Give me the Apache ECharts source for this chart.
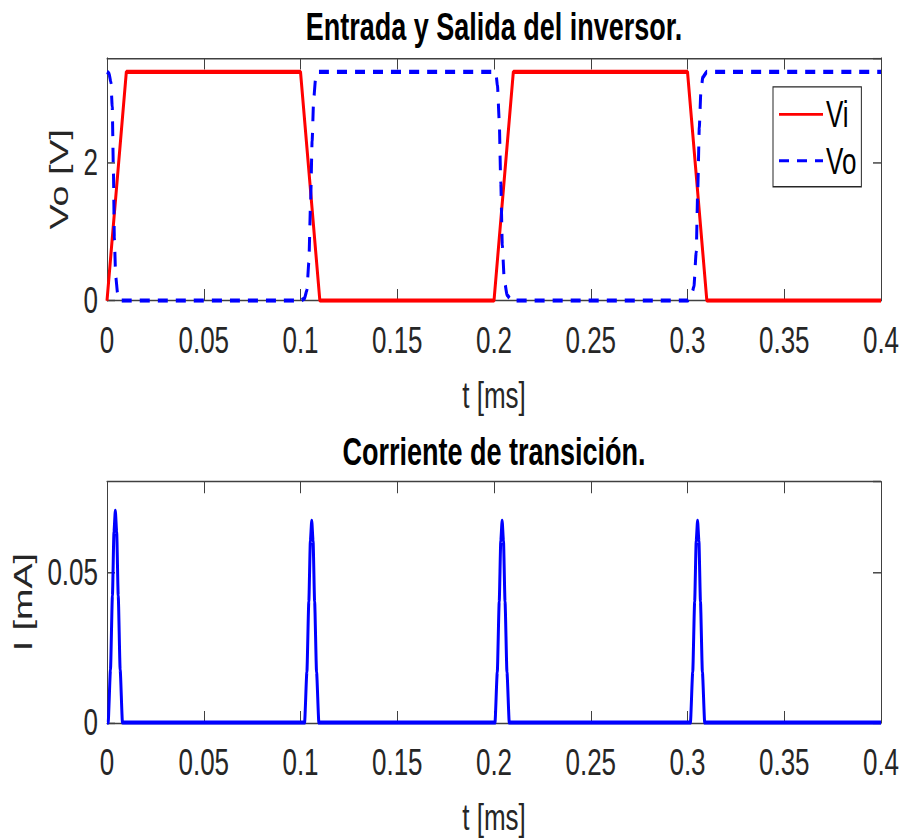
<!DOCTYPE html>
<html>
<head>
<meta charset="utf-8">
<script src="https://cdn.jsdelivr.net/npm/echarts@6/dist/echarts.min.js"></script>
<style>
  html, body { margin: 0; padding: 0; background: #fff; overflow: hidden; }
  #wrap { width: 903px; height: 840px; overflow: hidden; }
  /* figure is drawn at 580px high and stretched to 840 like the original picture */
  #chart { width: 903px; height: 580px; transform: scaleY(1.448276); transform-origin: 0 0; }
</style>
</head>
<body>
<div id="wrap"><div id="chart"></div></div>
<script>
// entrada (Vi)
var tVi = [0, 0.01, 0.1, 0.11, 0.2, 0.21, 0.3, 0.31, 0.4];
var vi  = [0, 3.3, 3.3, 0, 0, 3.3, 3.3, 0, 0];

// salida (Vo)
var tVo = [0, 0.001, 0.002, 0.0027, 0.0033, 0.0038, 0.0045, 0.0055, 0.007,
  0.1, 0.102, 0.1033, 0.1043, 0.1052, 0.106, 0.1068, 0.1078, 0.109,
  0.2, 0.201, 0.2018, 0.2027, 0.2035, 0.2043, 0.2053, 0.2068, 0.209,
  0.3, 0.3018, 0.3033, 0.3045, 0.3053, 0.3061, 0.3069, 0.3079, 0.31, 0.4];
var vo  = [3.3, 3.28, 3.15, 2.8, 1.9, 0.9, 0.35, 0.1, 0,
  0, 0.03, 0.15, 0.55, 1.4, 2.3, 2.9, 3.2, 3.3,
  3.3, 3.27, 3.1, 2.6, 1.7, 0.8, 0.3, 0.08, 0,
  0, 0.04, 0.2, 0.7, 1.6, 2.5, 3.0, 3.22, 3.3, 3.3];

// corriente de transicion (mA)
var tI = [0, 0.0006, 0.0018, 0.0028, 0.0036, 0.0043, 0.005, 0.0058, 0.0068, 0.008,
  0.1021, 0.1033, 0.1043, 0.1051, 0.1058, 0.1065, 0.1073, 0.1083, 0.1095,
  0.2005, 0.2017, 0.2027, 0.2035, 0.2042, 0.2049, 0.2057, 0.2067, 0.2079,
  0.3015, 0.3027, 0.3037, 0.3045, 0.3052, 0.3059, 0.3067, 0.3077, 0.3089, 0.4];
var iT = [0, 0, 0.0176, 0.0422, 0.0633, 0.0703, 0.0633, 0.0422, 0.0176, 0,
  0, 0.0168, 0.0402, 0.0603, 0.067, 0.0603, 0.0402, 0.0168, 0,
  0, 0.0168, 0.0402, 0.0603, 0.067, 0.0603, 0.0402, 0.0168, 0,
  0, 0.0168, 0.0402, 0.0603, 0.067, 0.0603, 0.0402, 0.0168, 0, 0];

function pairs (t, v) {
  return t.map(function (x, i) { return [x, v[i]]; });
}

var font = 'Liberation Sans, Arial, Helvetica, sans-serif';
var axisColor = '#404040';
var txt = '#262626';

function xAx (grid, pos, main) {
  return {
    type: 'value', gridIndex: grid, position: pos,
    min: 0, max: 0.4, interval: 0.05,
    axisLine: { show: true, onZero: false, lineStyle: { color: axisColor, width: 1 } },
    axisTick: { show: true, inside: true, length: 8, lineStyle: { color: axisColor } },
    axisLabel: { show: main, margin: 14, fontSize: 26, color: txt, fontFamily: font },
    splitLine: { show: false },
    name: main ? 't [ms]' : '', nameLocation: 'middle', nameGap: 52,
    nameTextStyle: { fontSize: 26, color: txt, fontFamily: font }
  };
}

function yAx (grid, pos, main, max, interval, name, gap) {
  return {
    type: 'value', gridIndex: grid, position: pos,
    min: 0, max: max, interval: interval,
    axisLine: { show: true, onZero: false, lineStyle: { color: axisColor, width: 1 } },
    axisTick: { show: true, inside: true, length: 8, lineStyle: { color: axisColor } },
    axisLabel: { show: main, showMaxLabel: false, margin: 9, fontSize: 26, color: txt, fontFamily: font },
    splitLine: { show: false },
    name: main ? name : '', nameLocation: 'middle', nameGap: gap,
    nameTextStyle: { fontSize: 26, color: txt, fontFamily: font }
  };
}

var myChart = echarts.init(document.getElementById('chart'), null, { renderer: 'svg' });

var option = {
  animation: false,
  backgroundColor: '#fff',
  title: [{
    text: 'Entrada y Salida del inversor.',
    left: 494, textAlign: 'center', top: 5, padding: 0,
    textStyle: { fontSize: 27, fontWeight: 'bold', color: '#000', fontFamily: font }
  }, {
    text: 'Corriente de transición.',
    left: 494, textAlign: 'center', top: 298, padding: 0,
    textStyle: { fontSize: 27, fontWeight: 'bold', color: '#000', fontFamily: font }
  }],
  legend: {
    data: ['Vi', 'Vo'],
    orient: 'vertical',
    left: 773, top: 60,
    padding: [6, 5, 5, 5],
    itemGap: 6,
    itemWidth: 44, itemHeight: 14,
    itemStyle: { opacity: 0 },
    backgroundColor: '#fff',
    borderColor: '#262626', borderWidth: 1, borderRadius: 0,
    textStyle: { fontSize: 26, color: '#000', fontFamily: font, padding: [0, 0, 0, -2] }
  },
  grid: [
    { left: 107, right: 22, top: 40, height: 167.6 },
    { left: 107, right: 22, top: 332.6, height: 166.4 }
  ],
  xAxis: [xAx(0, 'bottom', true), xAx(0, 'top', false), xAx(1, 'bottom', true), xAx(1, 'top', false)],
  yAxis: [
    yAx(0, 'left', true, 3.5, 2, 'Vo [V]', 30),
    yAx(0, 'right', false, 3.5, 2, '', 0),
    yAx(1, 'left', true, 0.08, 0.05, 'I [mA]', 67),
    yAx(1, 'right', false, 0.08, 0.05, '', 0)
  ],
  series: [{
    name: 'Vi', type: 'line', xAxisIndex: 0, yAxisIndex: 0,
    data: pairs(tVi, vi), symbol: 'none',
    lineStyle: { color: '#ff0000', width: 3 },
    itemStyle: { color: '#ff0000' }
  }, {
    name: 'Vo', type: 'line', xAxisIndex: 0, yAxisIndex: 0,
    data: pairs(tVo, vo), symbol: 'none', smooth: 0.2, smoothMonotone: 'x',
    lineStyle: { color: '#0000ff', width: 3, type: [10, 8] },
    itemStyle: { color: '#0000ff' }
  }, {
    name: 'I', type: 'line', xAxisIndex: 2, yAxisIndex: 2,
    data: pairs(tI, iT), symbol: 'none', smooth: 0.2, smoothMonotone: 'x',
    lineStyle: { color: '#0000ff', width: 3 },
    itemStyle: { color: '#0000ff' }
  }]
};

myChart.setOption(option);
window.addEventListener('resize', function () {
  myChart.resize();
});
</script>
</body>
</html>
